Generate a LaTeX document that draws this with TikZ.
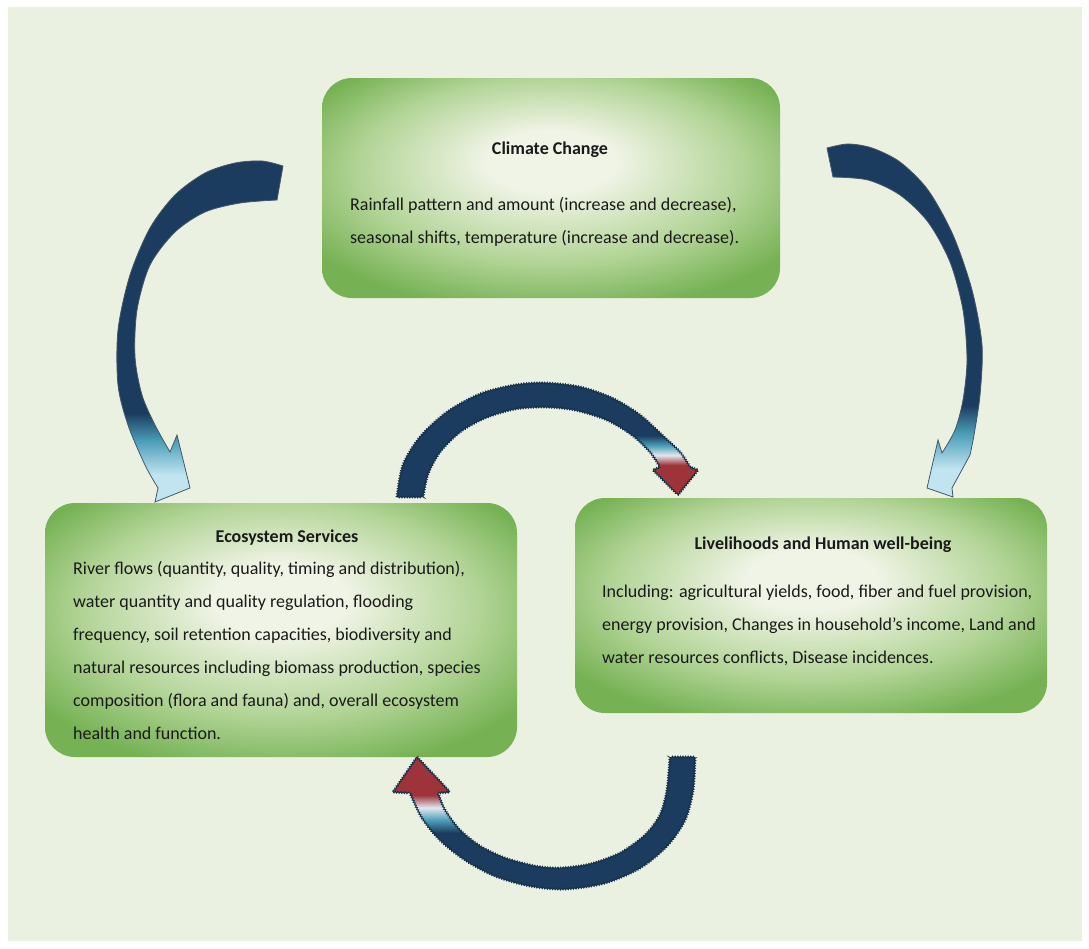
\documentclass[tikz,border=0pt]{standalone}
\usepackage{fontspec}
\setmainfont{Carlito}
\usetikzlibrary{decorations.pathmorphing}

\definecolor{bggreen}{RGB}{234,241,225}
\definecolor{boxgreen}{RGB}{118,178,84}
\definecolor{boxmid}{RGB}{178,212,150}
\definecolor{boxlight}{RGB}{240,244,230}
\definecolor{arrownavy}{RGB}{27,60,94}
\definecolor{arrowline}{RGB}{70,86,104}
\definecolor{arrowlight}{RGB}{192,228,240}
\definecolor{arrowteal}{RGB}{74,158,184}
\definecolor{headred}{RGB}{158,52,58}
\definecolor{headwhite}{RGB}{226,232,240}
\definecolor{txt}{RGB}{26,26,26}

\pgfdeclareradialshading{boxglow}{\pgfpoint{0bp}{7bp}}{color(0bp)=(boxlight); color(7bp)=(boxlight); color(21bp)=(boxmid); color(31bp)=(boxgreen); color(50bp)=(boxgreen)}
\pgfdeclareverticalshading{bigarrow}{100bp}{color(0bp)=(arrowlight); color(29bp)=(arrowlight); color(34bp)=(arrowteal); color(38bp)=(arrownavy); color(100bp)=(arrownavy)}
\pgfdeclareverticalshading{smallhead}{100bp}{color(0bp)=(headred); color(50bp)=(headred); color(57bp)=(headwhite); color(64bp)=(arrowteal); color(71bp)=(arrownavy); color(100bp)=(arrownavy)}

\newcommand\toparcpath{(397,497) -- plot[smooth] coordinates {(397,497) (403,465) (420,437) (447,412) (480,394) (515,385) (545,383) (580,387) (612,398) (640,415) (662,435) (680,452) (690,467)}
  -- (698,470) -- (678,495) -- (653,470) -- (660,467)
  -- plot[smooth] coordinates {(660,467) (650,452) (632,435) (607,420) (575,410) (545,407) (515,409) (485,418) (460,432) (440,452) (428,474) (423,497)} -- cycle}
\newcommand\botarcpath{(417,757) -- (450,792) -- (438,793)
  -- plot[smooth] coordinates {(438,793) (445,810) (460,830) (480,846) (505,858) (535,866) (560,868) (590,864) (620,853) (645,835) (660,815) (667,790) (670,757)}
  -- (695,757)
  -- plot[smooth] coordinates {(695,757) (693,790) (685,820) (667,846) (640,868) (605,883) (565,889) (530,886) (495,876) (465,860) (440,840) (422,818) (410,793)}
  -- (393,792) -- cycle}

\begin{document}
\begin{tikzpicture}[x=1pt,y=-1pt,
    panel/.style={rounded corners=30pt, shade, shading=boxglow, inner sep=0pt},
    titletext/.style={font=\fontsize{18}{33}\selectfont\bfseries, text=txt, inner sep=0pt, anchor=base},
    bodytext/.style={font=\fontsize{18}{33}\selectfont, text=txt, align=left, inner sep=0pt, anchor=base west},
    bigarrowfill/.style={shade, shading=bigarrow, draw=arrowline, line width=0.8pt},
    jagged/.style={decorate, draw=arrownavy!80!black, line width=0.9pt, decoration={zigzag, segment length=2.6pt, amplitude=0.9pt}}]
  % background
  \fill[white] (0,0) rectangle (1089,948);
  \fill[bggreen] (8,7) rectangle (1082,941);
  \useasboundingbox (0,0) rectangle (1089,948);

  % panels
  \node[panel, minimum width=458pt, minimum height=220pt] (climate) at (551,188) {};
  \node[panel, minimum width=472pt, minimum height=254pt] (ecosystem) at (281,630) {};
  \node[panel, minimum width=472pt, minimum height=215pt] (livelihoods) at (811,605.5) {};

  % texts (base of a block = its last line)
  \node[titletext] (climatetitle) at (550,154) {Climate Change};
  \node[bodytext] (climatetext) at (350,243) {Rainfall pattern and amount (increase and decrease),\\
    seasonal shifts, temperature (increase and decrease).};

  \node[titletext] (ecotitle) at (287,542) {Ecosystem Services};
  \node[bodytext] (ecotext) at (73,739) {River flows (quantity, quality, timing and distribution),\\
    water quantity and quality regulation, flooding\\
    frequency, soil retention capacities, biodiversity and\\
    natural resources including biomass production, species\\
    composition (flora and fauna) and, overall ecosystem\\
    health and function.};

  \node[titletext] (livetitle) at (823,549) {Livelihoods and Human well-being};
  \node[bodytext] (livetext) at (602,663) {Including: agricultural yields, food, fiber and fuel provision,\\
    energy provision, Changes in household's income, Land and\\
    water resources conflicts, Disease incidences.};

  % big arrows from climate change
  \path[bigarrowfill] (283,166) -- plot[smooth] coordinates {(283,166) (262,161) (235,163) (205,173) (175,195) (150,228) (130,275) (118,330) (118,385) (128,425) (145,465) (158,488)}
    -- (155,502) -- (190,488) -- (177,435) -- (170,452)
    -- plot[smooth] coordinates {(170,452) (155,425) (142,395) (135,357) (137,310) (150,265) (175,232) (205,212) (240,203) (277,200)} -- cycle;
  \path[bigarrowfill] (827,148) -- plot[smooth] coordinates {(827,148) (848,144) (872,148) (900,162) (928,190) (953,235) (972,290) (982,345) (980,395) (974,435) (970,455)}
    -- (952,488) -- (953,497) -- (927,488) -- (938,440) -- (942,453)
    -- plot[smooth] coordinates {(942,453) (955,430) (963,400) (967,360) (963,310) (950,262) (928,222) (900,195) (868,180) (833,177)} -- cycle;

  % small arrows between ecosystem and livelihoods
  \begin{scope}
    \clip \toparcpath;
    \fill[arrownavy] (380,370) rectangle (720,510);
    \shade[shading=smallhead] (625,430) rectangle (705,500);
  \end{scope}
  \path[jagged] \toparcpath;
  \begin{scope}
    \clip \botarcpath;
    \fill[arrownavy] (380,745) rectangle (710,900);
    \shade[shading=smallhead, shading angle=180] (385,750) rectangle (460,840);
  \end{scope}
  \path[jagged] \botarcpath;
\end{tikzpicture}
\end{document}
